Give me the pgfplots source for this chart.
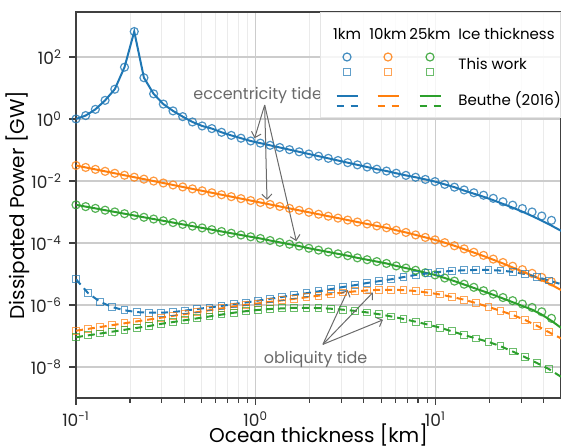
\documentclass[border=0pt]{standalone}
\usepackage{fontspec}
\setmainfont{Poppins}
\usepackage{pgfplots}
\pgfplotsset{compat=1.18}
\usepackage{pgfplotstable}
\usetikzlibrary{arrows.meta}

\definecolor{c1}{HTML}{1F77B4}
\definecolor{c10}{HTML}{FF7F0E}
\definecolor{c25}{HTML}{2CA02C}
\definecolor{annot}{HTML}{6A6A6A}

\newcommand{\legfont}{\fontsize{7.5}{9}\selectfont}
\newcommand{\annfont}{\fontsize{8}{9.5}\selectfont}

% one legend column: circle + square, solid + dashed line, at rel. x position #2
\newcommand{\legcol}[2]{%
    \draw[#1, line width=0.6pt, draw opacity=0.85] (rel axis cs:#2,0.8834) circle[radius=2pt];
    \draw[#1, line width=0.5pt, draw opacity=0.7]
        ([shift={(-1.7pt,-1.7pt)}]rel axis cs:#2,0.8446) rectangle ([shift={(1.7pt,1.7pt)}]rel axis cs:#2,0.8446);
    \draw[#1, line width=1pt]
        ([xshift=-5.25pt]rel axis cs:#2,0.7824) -- ([xshift=5.25pt]rel axis cs:#2,0.7824);
    \draw[#1, line width=1pt, dash pattern=on 3.5pt off 3.5pt]
        ([xshift=-5.25pt]rel axis cs:#2,0.7565) -- ([xshift=5.25pt]rel axis cs:#2,0.7565);
}

% eccentricity tide, values are log10 of the dissipated power [GW]
% c* = this work (circles), l* = Beuthe (2016) (solid lines)
\pgfplotstableread{
x      c1     c10    c25    l1     l10    l25
0.1000  0.00  -1.500 -2.770  0.00  -1.500 -2.770
0.1132  0.11  -1.563 -2.827  0.11  -1.563 -2.827
0.1282  0.31  -1.626 -2.884  0.31  -1.626 -2.884
0.1452  0.60  -1.689 -2.942  0.60  -1.689 -2.942
0.1644  0.96  -1.752 -2.999  0.96  -1.752 -2.999
0.1862  1.67  -1.815 -3.056  1.67  -1.815 -3.056
0.2109  2.82  -1.878 -3.113  2.82  -1.878 -3.113
0.2388  1.33  -1.941 -3.171  1.33  -1.941 -3.171
0.2704  0.81  -2.003 -3.228  0.81  -2.003 -3.228
0.3062  0.48  -2.066 -3.285  0.48  -2.066 -3.285
0.3467  0.26  -2.129 -3.342  0.26  -2.129 -3.342
0.3926  0.075 -2.192 -3.400  0.075 -2.192 -3.400
0.4446 -0.097 -2.255 -3.457 -0.097 -2.255 -3.457
0.5035 -0.226 -2.318 -3.514 -0.226 -2.318 -3.514
0.5702 -0.31  -2.381 -3.571 -0.31  -2.381 -3.571
0.6457 -0.43  -2.444 -3.629 -0.43  -2.444 -3.629
0.7311 -0.53  -2.506 -3.686 -0.53  -2.506 -3.686
0.8279 -0.62  -2.569 -3.743 -0.62  -2.569 -3.743
0.9376 -0.71  -2.632 -3.800 -0.71  -2.632 -3.800
1.0617 -0.78  -2.695 -3.855 -0.78  -2.695 -3.855
1.2023 -0.85  -2.758 -3.92  -0.85  -2.758 -3.92
1.3614 -0.92  -2.821 -3.98  -0.92  -2.821 -3.98
1.5417 -0.99  -2.884 -4.04  -0.99  -2.884 -4.04
1.7458 -1.06  -2.947 -4.10  -1.06  -2.947 -4.10
1.9770 -1.13  -3.010 -4.17  -1.13  -3.010 -4.17
2.2387 -1.20  -3.073 -4.23  -1.20  -3.073 -4.23
2.5351 -1.27  -3.136 -4.29  -1.27  -3.136 -4.29
2.8708 -1.34  -3.198 -4.35  -1.34  -3.198 -4.35
3.2509 -1.41  -3.261 -4.41  -1.41  -3.261 -4.41
3.6813 -1.48  -3.324 -4.48  -1.48  -3.324 -4.48
4.1687 -1.55  -3.387 -4.54  -1.55  -3.387 -4.54
4.7206 -1.62  -3.450 -4.60  -1.62  -3.450 -4.60
5.3456 -1.68  -3.51  -4.66  -1.68  -3.51  -4.66
6.0534 -1.75  -3.59  -4.74  -1.75  -3.59  -4.74
6.8549 -1.82  -3.66  -4.81  -1.82  -3.66  -4.81
7.7625 -1.88  -3.74  -4.88  -1.88  -3.74  -4.88
8.7902 -1.95  -3.82  -4.96  -1.95  -3.82  -4.96
9.9541 -2.02  -3.90  -5.03  -2.02  -3.90  -5.03
11.272 -2.11  -3.99  -5.13  -2.11  -3.99  -5.13
12.764 -2.20  -4.09  -5.23  -2.20  -4.09  -5.23
14.454 -2.29  -4.19  -5.33  -2.31  -4.20  -5.34
16.368 -2.38  -4.30  -5.43  -2.41  -4.31  -5.45
18.535 -2.46  -4.40  -5.54  -2.51  -4.42  -5.56
20.989 -2.56  -4.52  -5.65  -2.62  -4.54  -5.67
23.768 -2.67  -4.63  -5.76  -2.74  -4.66  -5.79
26.915 -2.78  -4.75  -5.86  -2.86  -4.79  -5.91
30.479 -2.89  -4.86  -5.97  -2.99  -4.92  -6.03
34.514 -3.00  -4.98  -6.08  -3.13  -5.05  -6.15
39.084 -3.13  -5.11  -6.22  -3.28  -5.19  -6.31
44.259 -3.27  -5.25  -6.43  -3.44  -5.35  -6.51
50.119 -3.45  -5.40  -6.65  -3.61  -5.52  -6.74
}\ecctable

% obliquity tide, log10 of the dissipated power [GW]
\pgfplotstableread{
x       o1     o10    o25
0.1      -5.17  -6.83  -7.04
0.11682  -5.62  -6.77  -6.98
0.13646  -5.90  -6.71  -6.92
0.15941  -6.07  -6.65  -6.86
0.18621  -6.17  -6.59  -6.80
0.21752  -6.23  -6.53  -6.74
0.25410  -6.25  -6.47  -6.68
0.29683  -6.25  -6.41  -6.61
0.34674  -6.23  -6.35  -6.55
0.40504  -6.18  -6.29  -6.49
0.47315  -6.13  -6.23  -6.43
0.55271  -6.08  -6.17  -6.37
0.64565  -6.03  -6.11  -6.31
0.75422  -5.97  -6.05  -6.25
0.88105  -5.92  -6.00  -6.20
1.0292   -5.86  -5.95  -6.16
1.2023   -5.80  -5.90  -6.13
1.4044   -5.74  -5.85  -6.11
1.6406   -5.68  -5.80  -6.09
1.9165   -5.62  -5.75  -6.09
2.2387   -5.56  -5.70  -6.10
2.6152   -5.49  -5.65  -6.12
3.0549   -5.42  -5.60  -6.15
3.5686   -5.36  -5.56  -6.19
4.1687   -5.29  -5.53  -6.24
4.8697   -5.23  -5.51  -6.30
5.6885   -5.17  -5.51  -6.37
6.6453   -5.10  -5.52  -6.45
7.7625   -5.03  -5.55  -6.54
9.0678   -4.98  -5.60  -6.63
10.593   -4.93  -5.66  -6.73
12.374   -4.90  -5.74  -6.85
14.454   -4.88  -5.83  -6.97
16.885   -4.87  -5.94  -7.08
19.724   -4.87  -6.06  -7.19
23.041   -4.89  -6.19  -7.33
26.915   -4.93  -6.32  -7.50
31.441   -5.00  -6.48  -7.68
36.728   -5.10  -6.67  -7.87
42.905   -5.21  -6.88  -8.07
50.119   -5.33  -7.08  -8.32
}\obltable

\begin{document}
\begin{tikzpicture}
\begin{axis}[
    scale only axis,
    width=242.5pt, height=193pt,
    xmode=log,
    xmin=0.1, xmax=50,
    ymin=-9, ymax=3.45,
    xtick={0.1,1,10},
    xticklabels={10\textsuperscript{-1},10\textsuperscript{0},10\textsuperscript{1}},
    minor xtick={0.2,0.3,0.4,0.5,0.6,0.7,0.8,0.9,2,3,4,5,6,7,8,9,20,30,40},
    ytick={-8,-6,-4,-2,0,2},
    yticklabels={10\textsuperscript{-8},10\textsuperscript{-6},10\textsuperscript{-4},10\textsuperscript{-2},10\textsuperscript{0},10\textsuperscript{2}},
    tick align=outside,
    tick pos=left,
    major tick length=3.5pt,
    minor tick length=2.5pt,
    every tick/.style={black!75, line width=0.6pt},
    tick label style={font=\fontsize{8.5}{10}\selectfont, color=black!85},
    axis line style={black!75, line width=0.8pt},
    xmajorgrids, ymajorgrids, xminorgrids,
    major grid style={black!20, line width=0.7pt},
    minor grid style={black!8, line width=0.5pt},
    xlabel={Ocean thickness [km]},
    ylabel={Dissipated Power [GW]},
    label style={font=\fontsize{10.5}{12}\selectfont, color=black!85},
    every axis x label/.style={at={(axis description cs:0.5,-0.096)}, anchor=center},
    every axis y label/.style={at={(axis description cs:-0.1196,0.5)}, rotate=90, anchor=center},
]

% this work: circles (eccentricity), squares (obliquity)
\addplot[c1, only marks, mark=o, mark size=2pt, mark options={line width=0.6pt, draw opacity=0.8}] table[x=x, y=c1] {\ecctable};
\addplot[c10, only marks, mark=o, mark size=2pt, mark options={line width=0.6pt, draw opacity=0.8}] table[x=x, y=c10] {\ecctable};
\addplot[c25, only marks, mark=o, mark size=2pt, mark options={line width=0.6pt, draw opacity=0.8}] table[x=x, y=c25] {\ecctable};
\addplot[c1, only marks, mark=square, mark size=1.7pt, mark options={line width=0.5pt, draw opacity=0.7}] table[x=x, y=o1] {\obltable};
\addplot[c10, only marks, mark=square, mark size=1.7pt, mark options={line width=0.5pt, draw opacity=0.7}] table[x=x, y=o10] {\obltable};
\addplot[c25, only marks, mark=square, mark size=1.7pt, mark options={line width=0.5pt, draw opacity=0.7}] table[x=x, y=o25] {\obltable};

% Beuthe (2016): solid (eccentricity), dashed (obliquity)
\addplot[c1, line width=1pt, no markers] table[x=x, y=l1] {\ecctable};
\addplot[c10, line width=1pt, no markers] table[x=x, y=l10] {\ecctable};
\addplot[c25, line width=1pt, no markers] table[x=x, y=l25] {\ecctable};
\addplot[c1, line width=1pt, no markers, dash pattern=on 3.5pt off 2.5pt] table[x=x, y=o1] {\obltable};
\addplot[c10, line width=1pt, no markers, dash pattern=on 3.5pt off 2.5pt] table[x=x, y=o10] {\obltable};
\addplot[c25, line width=1pt, no markers, dash pattern=on 3.5pt off 2.5pt] table[x=x, y=o25] {\obltable};

% annotations
\node[font=\annfont, text=annot] at (axis cs:1.026,0.75) {eccentricity tide};
\draw[annot, line width=0.5pt, -{Straight Barb[length=2.5pt]}] (axis cs:1.122,0.45) -- (axis cs:0.986,-0.62);
\draw[annot, line width=0.5pt, -{Straight Barb[length=2.5pt]}] (axis cs:1.122,0.45) -- (axis cs:1.156,-2.61);
\draw[annot, line width=0.5pt, -{Straight Barb[length=2.5pt]}] (axis cs:1.122,0.45) -- (axis cs:1.683,-3.94);

\node[font=\annfont, text=annot] at (axis cs:2.153,-7.75) {obliquity tide};
\draw[annot, line width=0.5pt, -{Straight Barb[length=2.5pt]}] (axis cs:2.366,-7.27) -- (axis cs:3.258,-5.52);
\draw[annot, line width=0.5pt, -{Straight Barb[length=2.5pt]}] (axis cs:2.366,-7.27) -- (axis cs:4.487,-5.60);
\draw[annot, line width=0.5pt, -{Straight Barb[length=2.5pt]}] (axis cs:2.366,-7.27) -- (axis cs:5.105,-6.48);

% legend box: ice thickness columns, this work / Beuthe (2016) rows
\path[fill=white, fill opacity=0.82, draw=black!10, line width=0.5pt]
    (rel axis cs:0.505,0.7254) rectangle (rel axis cs:1,0.998);
\node[font=\legfont, inner sep=0pt] at (rel axis cs:0.5588,0.943) {1km};
\node[font=\legfont, inner sep=0pt] at (rel axis cs:0.6433,0.943) {10km};
\node[font=\legfont, inner sep=0pt] at (rel axis cs:0.7299,0.943) {25km};
\node[font=\legfont, inner sep=0pt, anchor=west] at (rel axis cs:0.7876,0.943) {Ice thickness};
\node[font=\legfont, inner sep=0pt, anchor=west] at (rel axis cs:0.7876,0.8653) {This work};
\node[font=\legfont, inner sep=0pt, anchor=west] at (rel axis cs:0.7876,0.772) {Beuthe (2016)};
\legcol{c1}{0.5588}
\legcol{c10}{0.6433}
\legcol{c25}{0.7299}

\end{axis}
\pgfresetboundingbox
\useasboundingbox (-38pt,-25pt) rectangle (242.5pt,199pt);
\end{tikzpicture}
\end{document}
